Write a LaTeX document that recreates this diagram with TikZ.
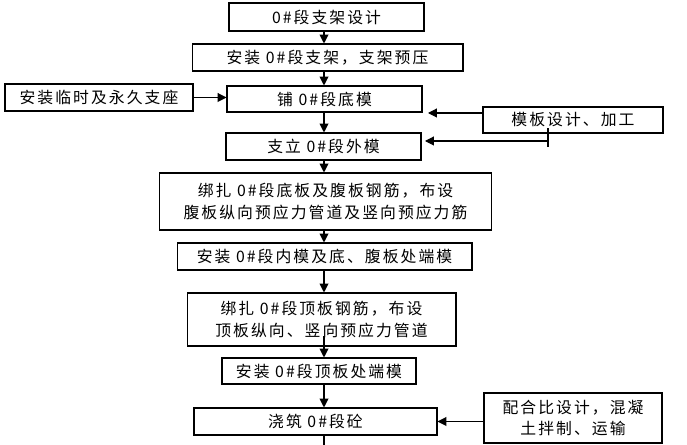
\documentclass[tikz,border=0pt]{standalone}
\usepackage{fontspec}
\setmainfont{Noto Sans CJK SC}[LetterSpace=13]
\usetikzlibrary{arrows.meta}

\begin{document}
\begin{tikzpicture}[x=0.02cm,y=-0.02cm,
  box/.style={draw,line width=0.6pt,inner sep=0pt,align=center,
    font=\fontsize{9}{12.5}\selectfont},
  link/.style={line width=0.6pt},
  flow/.style={link,-{Triangle[length=5pt,width=5pt]}}]
\useasboundingbox (0,0) rectangle (687,445);
\coordinate (axis) at (324,0);
\coordinate (tail) at (324,445);
\node[box,minimum width=3.9cm,minimum height=0.56cm] (b1) at (326.5,17) {0\#段支架设计};
\node[box,minimum width=5.42cm,minimum height=0.54cm] (b2) at (327.5,57.5) {安装 0\#段支架，支架预压};
\node[box,minimum width=3.76cm,minimum height=0.54cm] (b3) at (99,97.5) {安装临时及永久支座};
\node[box,minimum width=3.9cm,minimum height=0.52cm] (b4) at (324.5,99) {铺 0\#段底模};
\node[box,minimum width=3.6cm,minimum height=0.52cm] (bm) at (573,120) {模板设计、加工};
\node[box,minimum width=3.9cm,minimum height=0.54cm] (b5) at (323.5,146.5) {支立 0\#段外模};
\node[box,minimum width=6.66cm,minimum height=1.14cm] (b6) at (325.5,201.5) {绑扎 0\#段底板及腹板钢筋，布设\\腹板纵向预应力管道及竖向预应力筋};
\node[box,minimum width=5.9cm,minimum height=0.54cm] (b7) at (324.5,256.5) {安装 0\#段内模及底、腹板处端模};
\node[box,minimum width=5.38cm,minimum height=1.06cm] (b8) at (321.5,319.5) {绑扎 0\#段顶板钢筋，布设\\顶板纵向、竖向预应力管道};
\node[box,minimum width=3.88cm,minimum height=0.52cm] (b9) at (319,371) {安装 0\#段顶板处端模};
\node[box,minimum width=4.86cm,minimum height=0.54cm] (b10) at (315.5,421.5) {浇筑 0\#段砼};
\node[box,minimum width=3.56cm,minimum height=1.0cm] (b11) at (573,418) {配合比设计，混凝\\土拌制、运输};
% main line
\foreach \a/\b in {b1/b2,b2/b4,b4/b5,b5/b6,b6/b7,b7/b8,b9/b10}
  \draw[flow] (\a.south -| axis) -- (\b.north -| axis);
\draw[flow] ([yshift=6pt]b8.south -| axis) -- (b9.north -| axis);
\draw[link] (b10.south -| axis) -- (tail);
% side inputs
\draw[flow] (b3.east) -- (b4.west |- b3.east);
\coordinate (m1) at (428,113);
\draw[flow] (bm.west |- m1) -- (m1);
\coordinate (tap) at (548,141);
\coordinate (m2) at (425,141);
\draw[link] ([yshift=3pt]bm.south -| tap) -- (548,147);
\draw[flow] (tap) -- (m2);
\draw[flow] (b11.west |- b10.east) -- (b10.east);
\end{tikzpicture}
\end{document}
